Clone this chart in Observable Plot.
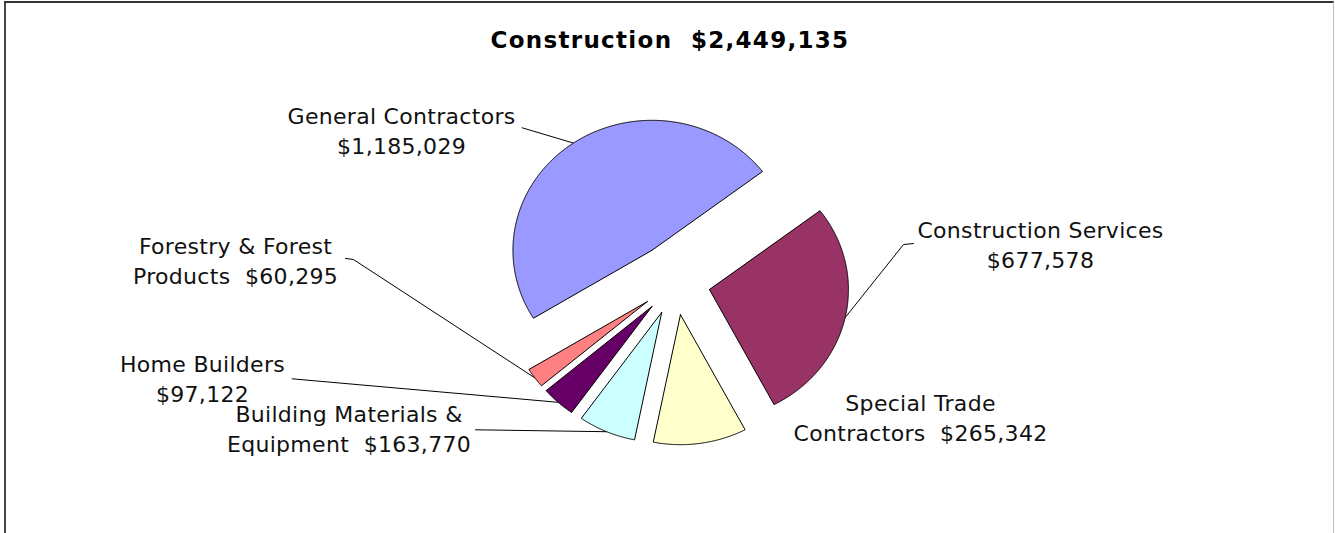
<!DOCTYPE html>
<html><head><meta charset="utf-8">
<script src="https://cdn.jsdelivr.net/npm/d3@7"></script>
<script src="https://cdn.jsdelivr.net/npm/@observablehq/plot@0.6"></script>
<style>
body{margin:0;background:#fff;}
#wrap{position:relative;width:1335px;height:533px;overflow:hidden;background:#fff;}
#wrap svg{position:absolute;left:0;top:0;}
#frame{position:absolute;left:4px;top:1px;width:1330px;height:600px;box-sizing:border-box;border-top:2px solid #333;border-left:2px solid #444;border-right:1px solid #bdbdbd;pointer-events:none;}
svg text{white-space:pre;}
g[font-weight="bold"]{letter-spacing:1.3px;}
g[font-size="22"]{letter-spacing:0.3px;}
</style></head><body><div id="wrap"><div id="frame"></div></div>
<script>
// ---- data ----
const chartTitle = "Construction";
const chartTotal = 2449135;
const categories = [
  "General Contractors",
  "Construction Services",
  "Special Trade\nContractors",
  "Building Materials &\nEquipment",
  "Home Builders",
  "Forestry & Forest\nProducts"
];
const values = [1185029, 677578, 265342, 163770, 97122, 60295];
const colors = ["#9999FF", "#993366", "#FFFFCC", "#CCFFFF", "#660066", "#FF8080"];

// ---- layout (pie-radius units) ----
const W = 1335, H = 533;
const startDeg = 238.5;
const explode = [0.30, 0.25, 0.25, 0.25, 0.25, 0.25];
const labelAt = [[-1.971, 0.992], [2.626, 0.108], [1.763, -1.223], [-2.349, -1.305], [-3.403, -0.921], [-3.165, -0.008]];
const leaderFrom = [
  [[-1.103, 1.190]],
  [[1.712, 0.300], [1.640, 0.292]],
  null,
  [[-1.439, -1.133]],
  [[-2.758, -0.741]],
  [[-2.374, 0.185], [-2.317, 0.177]]
];

const fmt = d3.format("$,");
const rows = categories.map((name, i) => ({name, value: values[i]}));
const a0 = startDeg * Math.PI / 180;
const arcs = d3.pie().sort(null).value(d => d.value).startAngle(a0).endAngle(a0 + 2 * Math.PI)(rows);

const slicePts = [], leaderPts = [], labels = [];
arcs.forEach((a, i) => {
  const name = a.data.name;
  const m = (a.startAngle + a.endAngle) / 2;
  const ex = explode[i] * Math.sin(m), ey = explode[i] * Math.cos(m);
  slicePts.push({name, x: ex, y: ey});
  const n = Math.max(4, Math.ceil((a.endAngle - a.startAngle) / 0.005));
  for (let k = 0; k <= n; k++) {
    const t = a.startAngle + (a.endAngle - a.startAngle) * k / n;
    slicePts.push({name, x: ex + Math.sin(t), y: ey + Math.cos(t)});
  }
  slicePts.push({name, x: ex, y: ey});
  if (leaderFrom[i]) {
    leaderFrom[i].forEach(p => leaderPts.push({name, x: p[0], y: p[1]}));
    leaderPts.push({name, x: ex + Math.sin(m), y: ey + Math.cos(m)});
  }
  const text = name + (name.includes("\n") ? "  " : "\n") + fmt(a.data.value);
  labels.push({x: labelAt[i][0], y: labelAt[i][1], text});
});

const chart = Plot.plot({
  width: W, height: H, margin: 0,
  x: {domain: [-675 / 139, (W - 675) / 139], axis: null},
  y: {domain: [-(H - 282) / 130, 282 / 130], axis: null},
  color: {domain: categories, range: colors},
  marks: [
    Plot.line(leaderPts, {x: "x", y: "y", z: "name", stroke: "#000", strokeWidth: 1}),
    Plot.line(slicePts, {x: "x", y: "y", z: "name", fill: "name", stroke: "#000", strokeWidth: 1}),
    Plot.text(labels, {x: "x", y: "y", text: "text", fontSize: 22, fontFamily: "DejaVu Sans", lineHeight: 1.364, lineAnchor: "bottom", textAnchor: "middle", fill: "#111"}),
    Plot.text([chartTitle + "  " + fmt(chartTotal)], {frameAnchor: "top", dx: 2, dy: 47, lineAnchor: "bottom", fontSize: 23, fontWeight: "bold", fontFamily: "DejaVu Sans", fill: "#000"})
  ]
});
document.getElementById("wrap").insertBefore(chart, document.getElementById("frame"));
</script>
</body></html>
